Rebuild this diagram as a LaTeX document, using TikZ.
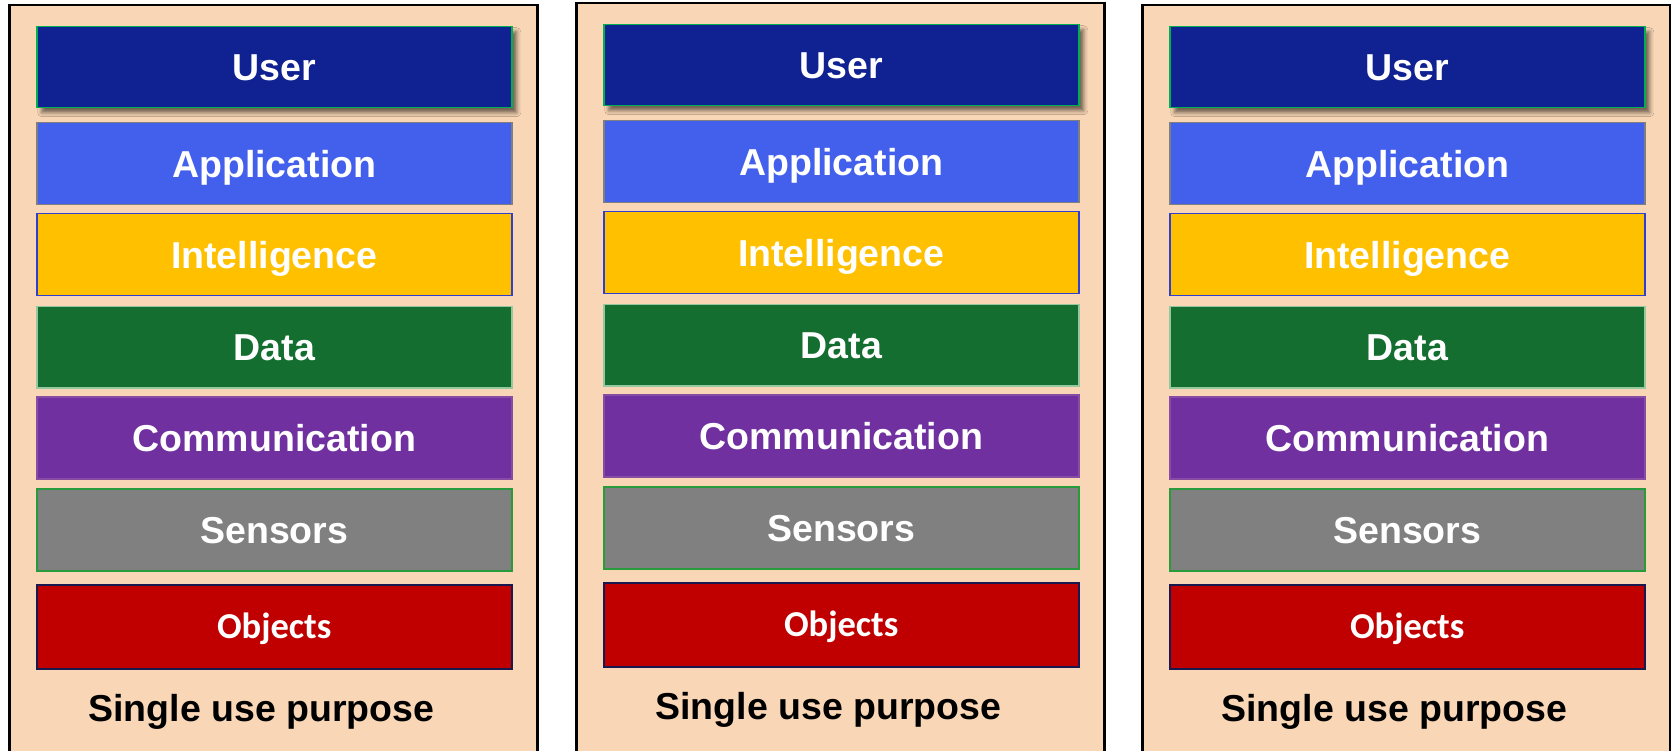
\documentclass[tikz,border=0pt]{standalone}
\usepackage{fontspec}
\setmainfont{Liberation Sans}
\newfontfamily\calibrifont{Carlito}
\usetikzlibrary{shadows.blur}
\definecolor{panelfill}{RGB}{249,214,181}
\definecolor{userfill}{RGB}{16,34,145}
\definecolor{appfill}{RGB}{67,96,236}
\definecolor{intfill}{RGB}{255,192,0}
\definecolor{datafill}{RGB}{20,110,48}
\definecolor{commfill}{RGB}{112,48,160}
\definecolor{sensfill}{RGB}{128,128,128}
\definecolor{objfill}{RGB}{192,0,0}
\definecolor{greenline}{RGB}{0,176,80}
\definecolor{grayline}{RGB}{127,127,127}
\definecolor{blueline}{RGB}{47,64,208}
\definecolor{dataline}{RGB}{150,200,160}
\definecolor{commline}{RGB}{170,120,170}
\definecolor{sensline}{RGB}{40,155,60}
\definecolor{navyline}{RGB}{25,25,80}
\begin{document}
\begin{tikzpicture}[x=1pt,y=-1pt,
  panel/.style={fill=panelfill,draw=black,line width=2.5pt},
  layer/.style={anchor=north west,inner sep=0pt,minimum width=475pt,line width=1.5pt,text=white,
    text height=27pt,text depth=0pt,font=\bfseries\fontsize{37.5}{40}\selectfont},
  caption/.style={text=black,inner sep=0pt,text height=27pt,text depth=0pt,font=\bfseries\fontsize{37.5}{40}\selectfont}]
\useasboundingbox (0,0) rectangle (1671,751);
\clip (0,0) rectangle (1671,751);
\foreach \p/\dx/\dy in {1/0/0,2/567/-2,3/1133/0}{
  \begin{scope}[shift={(\dx,\dy)}]
    \path[panel] (9.5,790) -- (9.5,5) -- (537.5,5) -- (537.5,790) -- cycle;
    \node[layer,fill=userfill,draw=greenline,minimum height=81pt,
      blur shadow={shadow xshift=5pt,shadow yshift=-5pt,shadow blur radius=4pt,shadow opacity=55}]
      (user\p) at (36,26) {User};
    \node[layer,fill=appfill,draw=grayline,minimum height=82pt] (app\p) at (36,122) {Application};
    \node[layer,fill=intfill,draw=blueline,minimum height=82pt] (int\p) at (36,213) {Intelligence};
    \node[layer,fill=datafill,draw=dataline,minimum height=81pt] (data\p) at (36,306) {Data};
    \node[layer,fill=commfill,draw=commline!40!commfill,minimum height=82pt] (comm\p) at (36,396) {Communication};
    \node[layer,fill=sensfill,draw=sensline,minimum height=82pt] (sens\p) at (36,488) {Sensors};
    \node[layer,fill=objfill,draw=navyline,minimum height=84pt,text height=23.5pt,
      font=\calibrifont\bfseries\fontsize{36.5}{40}\selectfont] (obj\p) at (36,584) {Objects};
    \node[caption] (cap\p) at (261.5,708) {Single use purpose};
  \end{scope}
}
\end{tikzpicture}
\end{document}
